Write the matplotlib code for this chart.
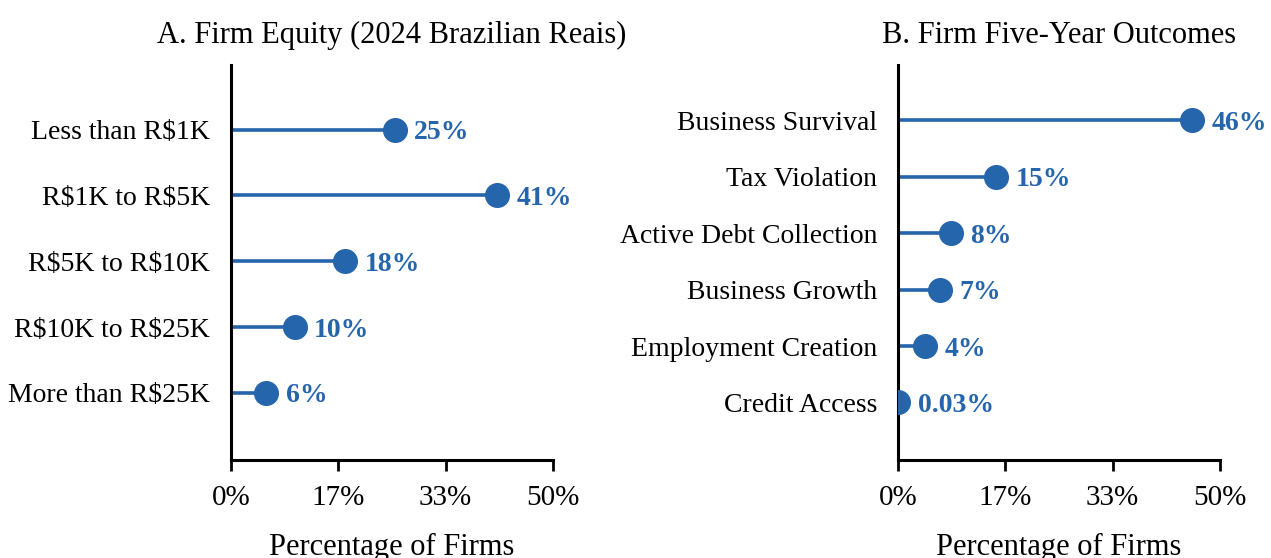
import matplotlib
matplotlib.use("Agg")
import matplotlib.pyplot as plt

# Panel A: firm equity
equity_cats = ["Less than R\\$1K", "R\\$1K to R\\$5K", "R\\$5K to R\\$10K",
               "R\\$10K to R\\$25K", "More than R\\$25K"]
equity_vals = [25.4, 41.3, 17.7, 9.9, 5.5]
equity_labels = ["25%", "41%", "18%", "10%", "6%"]

# Panel B: five-year outcomes
outcome_cats = ["Business Survival", "Tax Violation", "Active Debt Collection",
                "Business Growth", "Employment Creation", "Credit Access"]
outcome_vals = [45.7, 15.2, 8.2, 6.5, 4.2, 0.03]
outcome_labels = ["46%", "15%", "8%", "7%", "4%", "0.03%"]

x_ticks = [0, 50 / 3, 100 / 3, 50]
x_ticklabels = ["0%", "17%", "33%", "50%"]

BLUE = "#2565ab"
plt.rcParams["font.family"] = ["Liberation Serif", "DejaVu Serif"]

fig = plt.figure(figsize=(12.71, 5.58), dpi=100)
ax_a = fig.add_axes([0.1817, 0.1756, 0.2534, 0.7079])
ax_b = fig.add_axes([0.7065, 0.1756, 0.2534, 0.7079])


def lollipop(ax, cats, vals, labels, title):
    ys = list(range(len(cats)))
    for y, v, lab in zip(ys, vals, labels):
        ax.plot([0, v], [y, y], color=BLUE, linewidth=2.6, zorder=2)
        ax.plot(v, y, "o", color=BLUE, markersize=17, zorder=3)
        ax.annotate(lab, (v, y), xytext=(14, 0), textcoords="offset points",
                    ha="left", va="center_baseline", color=BLUE,
                    fontsize=20, fontweight="bold")
    ax.set_ylim(len(cats) - 1 + 1.02, -0.98)
    ax.set_xlim(0, 50)
    ax.set_yticks(ys)
    ax.set_yticklabels(cats, fontsize=20)
    ax.tick_params(axis="y", length=0, pad=15)
    ax.set_xticks(x_ticks)
    ax.set_xticklabels(x_ticklabels, fontsize=21)
    ax.tick_params(axis="x", length=8, width=2, pad=10, direction="out")
    for side in ("top", "right"):
        ax.spines[side].set_visible(False)
    for side in ("left", "bottom"):
        ax.spines[side].set_linewidth(2.2)
    ax.set_xlabel("Percentage of Firms", fontsize=22, labelpad=16)
    ax.set_title(title, fontsize=22, pad=16)


lollipop(ax_a, equity_cats, equity_vals, equity_labels,
         "A. Firm Equity (2024 Brazilian Reais)")
lollipop(ax_b, outcome_cats, outcome_vals, outcome_labels,
         "B. Firm Five-Year Outcomes")

fig.savefig("out.png", dpi=100)
